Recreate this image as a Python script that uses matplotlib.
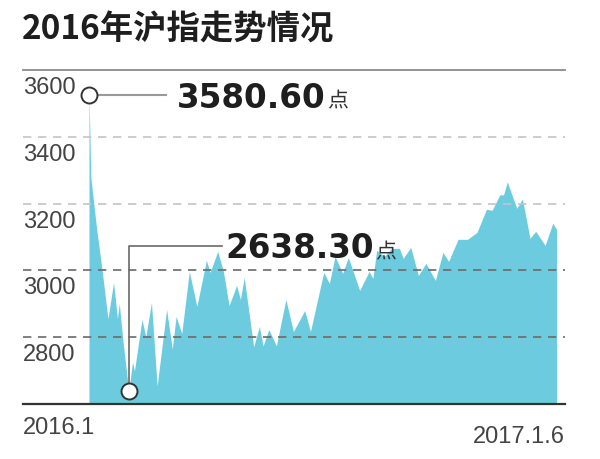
import matplotlib
matplotlib.use("Agg")
import matplotlib.pyplot as plt
import matplotlib.transforms as mtransforms
import numpy as np

# ---- data ----
days = [0, 1, 4, 7, 10, 13, 15, 16, 18, 21, 23, 24, 28, 30, 33, 36, 41, 44, 46, 49,
        53, 57, 62, 64, 68, 71, 74, 78, 80, 82, 87, 90, 92, 95, 99, 104, 108, 114, 117, 124,
        127, 130, 134, 137, 143, 148, 150, 152, 156, 160, 164, 166, 170, 174, 178, 183, 187, 190, 195, 200,
        205, 210, 213, 217, 219, 221, 226, 229, 233, 236, 241, 245, 247]
values = [3526, 3277, 3126, 2997, 2856, 2964, 2856, 2901, 2786, 2638, 2726, 2699, 2853, 2801, 2904, 2654, 2883, 2765, 2862, 2811,
          2997, 2892, 3030, 2994, 3057, 2997, 2895, 2955, 2913, 2979, 2771, 2832, 2774, 2823, 2774, 2913, 2817, 2880, 2817, 2994,
          2961, 3042, 2991, 3039, 2940, 2997, 2976, 3060, 3042, 3066, 3066, 3036, 3069, 2985, 3021, 2970, 3054, 3027, 3093, 3093,
          3114, 3183, 3180, 3226, 3226, 3265, 3186, 3214, 3096, 3117, 3075, 3141, 3123]
y_ticks = [3600, 3400, 3200, 3000, 2800]
x_labels = ["2016.1", "2017.1.6"]
title = "2016年沪指走势情况"
high_label = "3580.60"
low_label = "2638.30"
unit = "点"

FILL = "#6dcbe0"
W, H = 600, 460

fig = plt.figure(figsize=(6, 4.6), dpi=100)
fig.patch.set_facecolor("white")

def px_rect(l, t, r, b):
    return [l / W, 1 - b / H, (r - l) / W, (b - t) / H]

ax = fig.add_axes(px_rect(23, 71, 565, 405))
ax.set_axis_off()
x0_px, x1_px = 89.0, 556.5
ppd = (x1_px - x0_px) / (days[-1] - days[0])
ax.set_xlim(days[0] - (x0_px - 23) / ppd, days[-1] + (565 - x1_px) / ppd)
ax.set_ylim(2600, 3600)

ax.fill_between(days, values, 2600, color=FILL, lw=0, zorder=1)

# grid lines
for v in y_ticks[1:]:
    c = "#c4c4c4" if v > 3100 else "#6a6a6a"
    ax.axhline(v, color=c, lw=1.2, dashes=(5, 4), zorder=2)
ax.axhline(3600, color="#8a8a8a", lw=1.3, zorder=2, clip_on=False)
ax.axhline(2600, color="#333333", lw=1.6, zorder=3, clip_on=False)

# y labels
lab_tr = mtransforms.blended_transform_factory(ax.transAxes, ax.transData) + \
    mtransforms.ScaledTranslation(0, -17 / 100, fig.dpi_scale_trans)
for v in y_ticks:
    ax.text(0, v, str(v), transform=lab_tr, ha="left", va="center",
            fontsize=17, color="#444444", family="Liberation Sans", clip_on=False)

# x labels
fig.text(23 / W, 1 - 428 / H, x_labels[0], ha="left", va="center", fontsize=17,
         color="#444444", family="Liberation Sans")
fig.text(565 / W, 1 - 437 / H, x_labels[1], ha="right", va="center", fontsize=17,
         color="#444444", family="Liberation Sans")

# title
fig.text(22 / W, 1 - 30 / H, title, ha="left", va="center", fontsize=24,
         fontweight="bold", color="#1e1e1e", family=["Noto Sans CJK SC", "DejaVu Sans"])

# annotations
i_hi = int(np.argmax(values))
i_lo = int(np.argmin(values))
hi_pt = (days[i_hi], values[i_hi])
lo_pt = (days[i_lo], values[i_lo])

def off(pt, dx, dy):
    d = ax.transData.transform(pt)
    return ax.transData.inverted().transform((d[0] + dx, d[1] - dy))

# leader lines
p1, p2 = off(hi_pt, 9, 0), off(hi_pt, 77, 0)
ax.plot([p1[0], p2[0]], [p1[1], p2[1]], color="#999999", lw=1.5, zorder=4, clip_on=False)
q1, q2, q3 = off(lo_pt, 0, -8), off(lo_pt, 0, -145), off(lo_pt, 93.5, -145)
ax.plot([q1[0], q2[0], q3[0]], [q1[1], q2[1], q3[1]], color="#6a6a6a", lw=1.2, zorder=4, clip_on=False)

ax.plot([hi_pt[0], lo_pt[0]], [hi_pt[1], lo_pt[1]], ls="none", marker="o", ms=11.5,
        mfc="white", mec="#333333", mew=1.4, zorder=6, clip_on=False)

t_hi = ax.annotate(high_label, xy=hi_pt, xytext=(88, -12), textcoords="offset pixels",
                   ha="left", va="baseline", fontsize=23.5, fontweight="bold", color="#1e1e1e",
                   family="DejaVu Sans", zorder=7)
t_lo = ax.annotate(low_label, xy=lo_pt, xytext=(97, 134), textcoords="offset pixels",
                   ha="left", va="baseline", fontsize=23.5, fontweight="bold", color="#1e1e1e",
                   family="DejaVu Sans", zorder=7)

fig.canvas.draw()
for t, pt, base in [(t_hi, hi_pt, -12), (t_lo, lo_pt, 134)]:
    bb = t.get_window_extent()
    d = ax.transData.transform(pt)
    fx, fy = fig.transFigure.inverted().transform((bb.x1 + 1, d[1] + base))
    fig.text(fx, fy, unit, ha="left", va="baseline", fontsize=15, color="#333333",
             family=["Noto Sans CJK SC", "DejaVu Sans"])

fig.savefig("out.png", dpi=100)
